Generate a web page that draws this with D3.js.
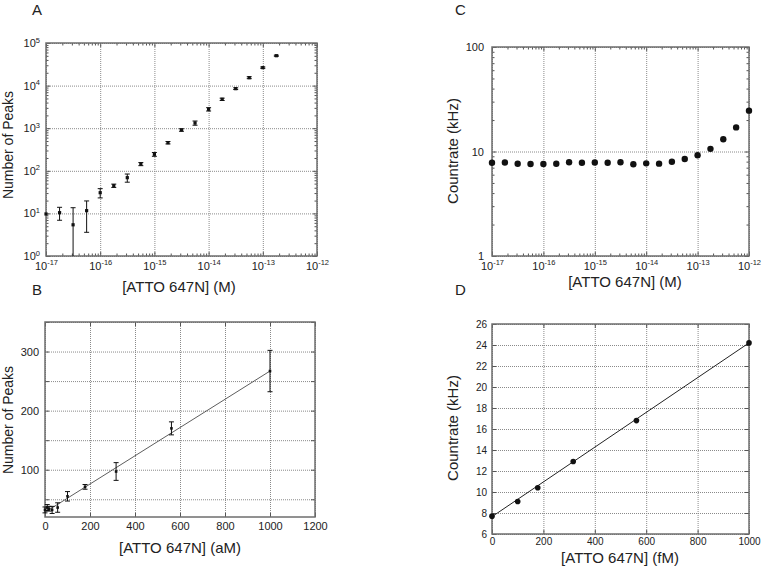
<!DOCTYPE html>
<html><head><meta charset="utf-8">
<script src="https://cdn.jsdelivr.net/npm/d3@7"></script>
<style>
body{margin:0;background:#fff}
svg{display:block}
text{font-family:"Liberation Sans",Arial,sans-serif;fill:#222}
</style>
</head><body>
<svg id="c" width="768" height="571"></svg>
<script>
// ---------------- Data ----------------
// Panel A: number of peaks vs concentration (M), log-log
const concA = [1e-17,1.78e-17,3.16e-17,5.62e-17,1e-16,1.78e-16,3.16e-16,5.62e-16,1e-15,1.78e-15,3.16e-15,5.62e-15,1e-14,1.78e-14,3.16e-14,5.62e-14,1e-13,1.78e-13];
const peaksA = [9.7,10.4,5.4,11.6,30.6,44.7,69,144,244,457,908,1324,2780,4770,8480,15350,26400,50300];
const errA = [0,3.5,8.2,8,7.5,4,15,12,25,30,60,150,250,300,400,800,1000,1500];
// Panel C: countrate (kHz) vs concentration (M)
const concC = [1e-17,1.78e-17,3.16e-17,5.62e-17,1e-16,1.78e-16,3.16e-16,5.62e-16,1e-15,1.78e-15,3.16e-15,5.62e-15,1e-14,1.78e-14,3.16e-14,5.62e-14,1e-13,1.78e-13,3.16e-13,5.62e-13,1e-12];
const rateC = [7.8,7.85,7.64,7.6,7.6,7.64,7.88,7.8,7.85,7.8,7.9,7.54,7.7,7.65,7.98,8.48,9.2,10.6,13.1,17.0,24.6];
// Panel B: number of peaks vs concentration (aM), linear
const concB = [0,10,17.8,31.6,56.2,100,178,316,562,1000];
const peaksB = [32,36,34,32,36,55,71,97,170,267];
const errB = [5,5,4,6,8,8,4,15,11,35];
const fitB = [28,0.239];      // intercept, slope
// Panel D: countrate (kHz) vs concentration (fM), linear
const concD = [0,100,178,316,562,1000];
const rateD = [7.7,9.1,10.4,12.9,16.8,24.2];
const fitD = [7.65,0.01655];  // intercept, slope

// Tick values
const decadesX = [1e-17,1e-16,1e-15,1e-14,1e-13,1e-12];
const decadesA = [1,10,100,1e3,1e4,1e5];
const decadesC = [1,10,100];
const ticksBx = [0,200,400,600,800,1000,1200];
const labelsBy = [100,200,300];
const gridBy = [50,100,150,200,250,300,350];
const ticksDx = [0,200,400,600,800,1000];
const ticksDy = [6,8,10,12,14,16,18,20,22,24,26];

// ---------------- Drawing ----------------
const svg = d3.select('#c');
const FONT = '"Liberation Sans",Arial,sans-serif';

function minorLog(lo, hi) {
  const out = [];
  for (let e = Math.round(Math.log10(lo)); e < Math.round(Math.log10(hi)); e++)
    for (let m = 2; m <= 9; m++) out.push(m * Math.pow(10, e));
  return out;
}
function pow(sel) {
  sel.each(function(d) {
    const e = Math.round(Math.log10(d));
    const t = d3.select(this); t.text(null);
    t.append('tspan').text('10');
    t.append('tspan').attr('dy', '-0.6em').attr('font-size', '7.5px').text(e);
  });
}

function panel(p) {
  const g = svg.append('g');
  const [x0, x1] = p.x.range(), [y0, y1] = p.y.range();
  const w = x1 - x0, h = y0 - y1;
  const clean = s => { s.select('.domain').remove(); s.attr('font-family', FONT); };
  // grid
  g.append('g').attr('transform', `translate(0,${y0})`)
    .call(d3.axisBottom(p.x).tickValues(p.xGrid).tickSize(-h).tickFormat(''))
    .call(clean).selectAll('line').attr('stroke', '#8a8a8a').attr('stroke-dasharray', '1,1');
  g.append('g').attr('transform', `translate(${x0},0)`)
    .call(d3.axisLeft(p.y).tickValues(p.yGrid).tickSize(-w).tickFormat(''))
    .call(clean).selectAll('line').attr('stroke', '#8a8a8a').attr('stroke-dasharray', '1,1');
  // inward ticks on all sides
  const tk = (axis, vals, size, tr) => g.append('g').attr('transform', tr)
    .call(axis.tickValues(vals).tickSize(-size).tickFormat(''))
    .call(clean).selectAll('line').attr('stroke', '#555');
  tk(d3.axisBottom(p.x), p.xTicks, 4, `translate(0,${y0})`);
  tk(d3.axisTop(p.x), p.xTicks, 4, `translate(0,${y1})`);
  tk(d3.axisLeft(p.y), p.yTickMarks || p.yTicks, 4, `translate(${x0},0)`);
  tk(d3.axisRight(p.y), p.yTickMarks || p.yTicks, 4, `translate(${x1},0)`);
  if (p.xMinor) {
    tk(d3.axisBottom(p.x), p.xMinor, 2.5, `translate(0,${y0})`);
    tk(d3.axisTop(p.x), p.xMinor, 2.5, `translate(0,${y1})`);
  }
  if (p.yMinor) {
    tk(d3.axisLeft(p.y), p.yMinor, 2.5, `translate(${x0},0)`);
    tk(d3.axisRight(p.y), p.yMinor, 2.5, `translate(${x1},0)`);
  }
  // frame
  g.append('rect').attr('x', x0).attr('y', y1).attr('width', w).attr('height', h)
    .attr('fill', 'none').attr('stroke', '#6e6e6e').attr('stroke-width', 1.5);
  // tick labels
  const xa = g.append('g').attr('transform', `translate(0,${y0})`)
    .call(d3.axisBottom(p.x).tickValues(p.xTicks).tickSize(0).tickPadding(p.xPad).tickFormat(p.xPow ? (d => d) : d3.format('d')));
  xa.call(clean); xa.attr('font-size', p.fs);
  xa.selectAll('text').attr('fill', '#222');
  if (p.xPow) xa.selectAll('text').call(pow);
  const ya = g.append('g').attr('transform', `translate(${x0},0)`)
    .call(d3.axisLeft(p.y).tickValues(p.yLabels || p.yTicks).tickSize(0).tickPadding(p.yPad).tickFormat(p.yPow ? (d => d) : d3.format('d')));
  ya.call(clean); ya.attr('font-size', p.fs);
  ya.selectAll('text').attr('fill', '#222');
  if (p.yPow) ya.selectAll('text').call(pow);
  // titles
  g.append('text').attr('x', p.xt[0]).attr('y', p.xt[1]).attr('text-anchor', 'middle')
    .attr('font-size', p.tfs).text(p.xTitle);
  g.append('text').attr('transform', `translate(${p.yt[0]},${p.yt[1]}) rotate(-90)`)
    .attr('text-anchor', 'middle').attr('font-size', p.ytfs || p.tfs).text(p.yTitle);
  g.append('text').attr('x', p.lab[0]).attr('y', p.lab[1]).attr('font-size', 15).text(p.letter);
  return g;
}

function errorBars(g, xs, ys, es, x, y, floor, cap) {
  const gb = g.append('g').attr('stroke', '#111').attr('stroke-width', 1);
  xs.forEach((xv, i) => {
    if (!es[i]) return;
    const lo = ys[i] - es[i] > floor ? y(ys[i] - es[i]) : y.range()[0];
    const hi = y(ys[i] + es[i]);
    const cx = x(xv);
    gb.append('line').attr('x1', cx).attr('x2', cx).attr('y1', lo).attr('y2', hi);
    gb.append('line').attr('x1', cx - cap).attr('x2', cx + cap).attr('y1', hi).attr('y2', hi);
    if (ys[i] - es[i] > floor) gb.append('line').attr('x1', cx - cap).attr('x2', cx + cap).attr('y1', lo).attr('y2', lo);
  });
}

// ----- Panel A -----
const xA = d3.scaleLog().domain([1e-17, 1e-12]).range([46, 317]);
const yA = d3.scaleLog().domain([1, 1e5]).range([256, 43]);
const gA = panel({x: xA, y: yA, xGrid: decadesX, yGrid: decadesA, xTicks: decadesX, yTicks: decadesA,
  xMinor: minorLog(1e-17, 1e-12), yMinor: minorLog(1, 1e5), xPow: true, yPow: true,
  xPad: 6, yPad: 6, fs: 11, tfs: 15, ytfs: 14,
  xTitle: '[ATTO 647N] (M)', yTitle: 'Number of Peaks', xt: [179, 292], yt: [13.3, 145],
  lab: [32, 15], letter: 'A'});
errorBars(gA, concA, peaksA, errA, xA, yA, 1, 2.5);
gA.append('g').selectAll('rect').data(concA).join('rect')
  .attr('x', (d) => xA(d) - 1.6).attr('y', (d, i) => yA(peaksA[i]) - 1.6)
  .attr('width', 3.2).attr('height', 3.2).attr('fill', '#111');

// ----- Panel C -----
const xC = d3.scaleLog().domain([1e-17, 1e-12]).range([492, 749]);
const yC = d3.scaleLog().domain([1, 100]).range([256, 47]);
const gC = panel({x: xC, y: yC, xGrid: decadesX, yGrid: decadesC, xTicks: decadesX, yTicks: decadesC,
  xMinor: minorLog(1e-17, 1e-12), yMinor: minorLog(1, 100), xPow: true, yPow: false,
  xPad: 6, yPad: 8, fs: 11, tfs: 15,
  xTitle: '[ATTO 647N] (M)', yTitle: 'Countrate (kHz)', xt: [625, 287], yt: [457.5, 151],
  lab: [455, 15], letter: 'C'});
gC.append('g').selectAll('circle').data(concC).join('circle')
  .attr('cx', d => xC(d)).attr('cy', (d, i) => yC(rateC[i])).attr('r', 3.2).attr('fill', '#111');

// ----- Panel B -----
const xB = d3.scaleLinear().domain([0, 1200]).range([45, 315]);
const yB = d3.scaleLinear().domain([20, 350]).range([517, 322]);
const gB = panel({x: xB, y: yB, xGrid: ticksBx, yGrid: gridBy, xTicks: ticksBx, yTicks: gridBy, yLabels: labelsBy,
  xPad: 5, yPad: 6, fs: 11, tfs: 15, ytfs: 14,
  xTitle: '[ATTO 647N] (aM)', yTitle: 'Number of Peaks', xt: [180, 553], yt: [13.3, 420],
  lab: [32, 295], letter: 'B'});
gB.append('line').attr('x1', xB(0)).attr('x2', xB(1000))
  .attr('y1', yB(fitB[0])).attr('y2', yB(fitB[0] + fitB[1] * 1000))
  .attr('stroke', '#333').attr('stroke-width', 0.8);
errorBars(gB, concB, peaksB, errB, xB, yB, -1e9, 2.5);
gB.append('g').selectAll('rect').data(concB).join('rect')
  .attr('x', d => xB(d) - 1.3).attr('y', (d, i) => yB(peaksB[i]) - 1.3)
  .attr('width', 2.6).attr('height', 2.6).attr('fill', '#111');

// ----- Panel D -----
const xD = d3.scaleLinear().domain([0, 1000]).range([492, 749]);
const yD = d3.scaleLinear().domain([6, 26]).range([534, 324]);
const gD = panel({x: xD, y: yD, xGrid: ticksDx, yGrid: ticksDy, xTicks: ticksDx, yTicks: ticksDy,
  xPad: 4, yPad: 5, fs: 10, tfs: 15,
  xTitle: '[ATTO 647N] (fM)', yTitle: 'Countrate (kHz)', xt: [620, 563], yt: [457.5, 428],
  lab: [455, 295], letter: 'D'});
gD.append('line').attr('x1', xD(0)).attr('x2', xD(1000))
  .attr('y1', yD(fitD[0])).attr('y2', yD(fitD[0] + fitD[1] * 1000))
  .attr('stroke', '#222').attr('stroke-width', 1);
gD.append('g').selectAll('circle').data(concD).join('circle')
  .attr('cx', d => xD(d)).attr('cy', (d, i) => yD(rateD[i])).attr('r', 2.8).attr('fill', '#111');
</script>
</body></html>
